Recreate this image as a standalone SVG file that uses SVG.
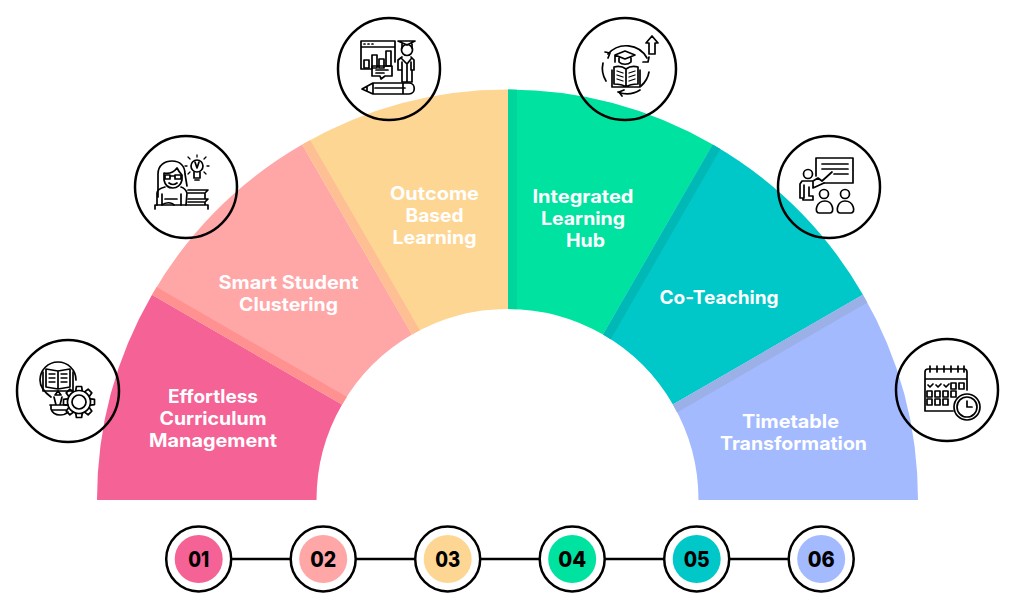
<svg xmlns="http://www.w3.org/2000/svg" width="1022" height="611" viewBox="0 0 1022 611">
<style>
.lbl{font-family:"Inter","Liberation Sans",sans-serif;font-weight:700;font-size:18.5px;fill:#fff;text-anchor:middle}
.num{font-family:"Inter","Liberation Sans",sans-serif;font-weight:800;font-size:21.5px;fill:#000;text-anchor:middle}
.badge{fill:none;stroke:#000;stroke-width:2.5}
.ring{fill:#fff;stroke:#000;stroke-width:2.5}
.ic{fill:none;stroke:#000;stroke-width:1.7;stroke-linejoin:round;stroke-linecap:round}
.thin{stroke-width:1.3}
</style>
<defs>
<clipPath id="arc"><path d="M97 500A410.5 410.5 0 0 1 918 500H698.5A191 191 0 0 0 316.5 500Z"/></clipPath>
<path id="tooth" d="M-3.2 -11.5L-2.6 -15.5H2.6L3.2 -11.5"/>
</defs>
<rect width="1022" height="611" fill="#fff"/>
<g id="sector-1">
<path fill="#f56295" d="M97 500A410.5 410.5 0 0 1 152 294.75L342.1 404.5A191 191 0 0 0 316.5 500Z"/>
<text class="lbl" x="213" y="403" textLength="90" lengthAdjust="spacingAndGlyphs">Effortless</text>
<text class="lbl" x="213" y="425" textLength="107" lengthAdjust="spacingAndGlyphs">Curriculum</text>
<text class="lbl" x="213" y="447" textLength="128" lengthAdjust="spacingAndGlyphs">Management</text>
</g>
<g id="sector-2">
<path fill="#ffa6a7" d="M152 294.75A410.5 410.5 0 0 1 302.25 144.5L412 334.6A191 191 0 0 0 342.1 404.5Z"/>
<text class="lbl" x="288.5" y="289" textLength="140" lengthAdjust="spacingAndGlyphs">Smart Student</text>
<text class="lbl" x="288.5" y="311" textLength="99" lengthAdjust="spacingAndGlyphs">Clustering</text>
</g>
<g id="sector-3">
<path fill="#fed693" d="M302.25 144.5A410.5 410.5 0 0 1 508 89.5V309A191 191 0 0 0 412 334.6Z"/>
<text class="lbl" x="434.5" y="200" textLength="89" lengthAdjust="spacingAndGlyphs">Outcome</text>
<text class="lbl" x="434.5" y="222" textLength="58" lengthAdjust="spacingAndGlyphs">Based</text>
<text class="lbl" x="434.5" y="244" textLength="84" lengthAdjust="spacingAndGlyphs">Learning</text>
</g>
<g id="sector-4">
<path fill="#00e3a0" d="M508 89.5A410.5 410.5 0 0 1 712.75 144.5L603 334.6A191 191 0 0 0 508 309Z"/>
<text class="lbl" x="583" y="203" textLength="101" lengthAdjust="spacingAndGlyphs">Integrated</text>
<text class="lbl" x="583" y="225" textLength="84" lengthAdjust="spacingAndGlyphs">Learning</text>
<text class="lbl" x="585.5" y="247" textLength="39" lengthAdjust="spacingAndGlyphs">Hub</text>
</g>
<g id="sector-5">
<path fill="#00c8c8" d="M712.75 144.5A410.5 410.5 0 0 1 863 294.75L672.9 404.5A191 191 0 0 0 603 334.6Z"/>
<text class="lbl" x="719" y="303.5" textLength="119" lengthAdjust="spacingAndGlyphs">Co-Teaching</text>
</g>
<g id="sector-6">
<path fill="#a3baff" d="M863 294.75A410.5 410.5 0 0 1 918 500H698.5A191 191 0 0 0 672.9 404.5Z"/>
<text class="lbl" x="790.5" y="428" textLength="97" lengthAdjust="spacingAndGlyphs">Timetable</text>
<text class="lbl" x="793.5" y="450" textLength="147" lengthAdjust="spacingAndGlyphs">Transformation</text>
</g>
<g id="sector-edges" clip-path="url(#arc)">
<rect x="87" y="491" width="240" height="9" fill="#ff9190" transform="rotate(30 507.5 500)"/>
<rect x="87" y="491" width="240" height="9" fill="#fdbf93" transform="rotate(60 507.5 500)"/>
<rect x="87" y="491" width="240" height="9" fill="#00d69b" transform="translate(0.5 0) rotate(90 507.5 500)"/>
<rect x="87" y="491" width="240" height="9" fill="#00b9b6" transform="rotate(120 507.5 500)"/>
<rect x="87" y="491" width="240" height="9" fill="#9bb0e6" transform="rotate(150 507.5 500)"/>
</g>
<g id="icon-curriculum">
<circle class="badge" cx="68" cy="391" r="51"/>
<g class="ic">
<path d="M51 397C44 392 40 387 40 380A18 18 0 0 1 76 380"/>
<path d="M43 372V391H73V372M46 369L58 371L70 369V387L58 389L46 387ZM58 371V389"/>
<path class="thin" d="M49 374h6M49 378h6M49 382h6M61 374h6M61 378h6M61 382h6"/>
<path d="M58 391L55 395H61ZM54 397L56 405M62 397L60 405M50 405H68M51 405V409Q53 415 60 415Q65 415 68 412M52 410H66"/>
<circle cx="79" cy="402" r="11.5"/><circle cx="79" cy="402" r="7"/>
<g transform="translate(79 402)"><use href="#tooth"/><use href="#tooth" transform="rotate(45)"/><use href="#tooth" transform="rotate(90)"/><use href="#tooth" transform="rotate(135)"/><use href="#tooth" transform="rotate(180)"/><use href="#tooth" transform="rotate(225)"/><use href="#tooth" transform="rotate(270)"/><use href="#tooth" transform="rotate(315)"/></g>
</g>
</g>
<g id="icon-clustering">
<circle class="badge" cx="186" cy="187" r="51"/>
<g class="ic">
<path d="M158 197V174C158 165 165 161 172 161C180 161 185 166 185 174L187 186"/>
<path d="M164 173C169 174 174 172 177 168C179 172 181 174 182 175V180C181 185 177 188 173 188C168 188 165 185 164 180Z"/>
<path d="M165 175H170V179H165ZM175 175H181V179H175ZM170 176H175M169 183Q173 186 177 183"/>
<path d="M157 205V193C157 190 161 188 165 187M181 187C184 188 186 190 187 193L186 205M162 194V205M181 194V205M165 199H177M162 205C165 202 172 202 174 205"/>
<path d="M155 209V205H208V209M188 190H208L205 193V199H188M188 199H208L205 202V205M188 193H204M188 202H204"/>
<circle cx="197" cy="166" r="6"/>
<path d="M194 172V178H200V172M195 180H199M195 162L197 168L199 162"/>
<path class="thin" d="M197 157V155M190 159L188 157M204 159L206 157M187 166H185M207 166H209M190 172L188 174M204 172L206 174"/>
</g>
</g>
<g id="icon-outcome">
<circle class="badge" cx="389" cy="69" r="51"/>
<g class="ic">
<path d="M395 62V41H361V69H372M361 47H395"/>
<path d="M364 44h1M368 44h1M372 44h1"/>
<path d="M364 60h5v8h-5ZM372 55h5v13h-5ZM379 59h5v9h-5ZM386 51h5v15h-5Z"/>
<path d="M372 66H392V76H385L381 79L380 76H372ZM376 70H388M376 73H384"/>
<path d="M398 41H415L407 45ZM402 44V48M412 44V48"/>
<circle cx="407" cy="50" r="5.5"/>
<path d="M402 57L398 60V70H402V82H412V70H414V60L411 57M402 59L407 64L411 59M407 64V82M402 70V62M411 70V62"/>
<path d="M362 89L373 83H409C416 83 416 94 409 94H373ZM373 83V94M375 88H405M403 83V94M367 87V91"/>
</g>
</g>
<g id="icon-hub">
<circle class="badge" cx="625" cy="69" r="51"/>
<g class="ic">
<path d="M608 54A24 24 0 0 1 647 58M649 72A24 24 0 0 1 641 86M618 92A24 24 0 0 0 640 90M606 81A24 24 0 0 1 603 63"/>
<path d="M643 62L648 62L649 57M605 52L610 53L608 58M624 90L619 92L622 96"/>
<path d="M615 55L625 51L635 55L625 59ZM619 58V62C622 65 628 65 631 62V58M615 55V62"/>
<path d="M626 69V87M626 69C622 66 618 66 614 67V84C618 84 622 84 626 87C630 84 634 84 638 84V67C634 66 630 66 626 69ZM612 70V87H640V70"/>
<path class="thin" d="M617 71l6 2M617 75l6 2M617 79l6 2M629 73l6 -2M629 77l6 -2M629 81l6 -2"/>
<path d="M649 54V43H646L652 36L658 43H655V54Z"/>
</g>
</g>
<g id="icon-coteaching">
<circle class="badge" cx="829" cy="187" r="51"/>
<g class="ic">
<path d="M816 176V158H853V183H824"/>
<path d="M822 164H848M822 169H848M834 174H848"/>
<circle cx="808" cy="174" r="4.5"/>
<path d="M832 172L822 181L818 178L813 181H802L800 184V198H804V185M809 187V196H813V200H803V198M813 181V188L824 183"/>
<circle cx="824" cy="194" r="4.5"/><circle cx="845" cy="194" r="4.5"/>
<path d="M819 213C814 213 816 201 825 201C833 201 835 213 830 213ZM840 213C835 213 837 201 845 201C854 201 856 213 851 213Z"/>
</g>
</g>
<g id="icon-timetable">
<circle class="badge" cx="947" cy="390" r="51"/>
<g class="ic">
<path d="M953 411H925V372Q925 369 928 369H964Q967 369 967 372V390M925 379H967"/>
<path d="M930 366V372M937 366V372M944 366V372M951 366V372M958 366V372M964 366V372"/>
<path d="M928 385l2 2l3 -3M936 385l2 2l3 -3M944 385l2 2l3 -3M951 383h5v6h-5ZM959 383h5v6h-5ZM927 391h5v6h-5ZM935 391h5v6h-5ZM943 391h5v6h-5ZM951 391h5v6h-5ZM927 399h5v6h-5ZM935 399h5v6h-5ZM943 399h5v6h-5Z"/>
<circle cx="967" cy="407" r="13"/><circle cx="967" cy="407" r="10"/>
<path d="M967 401V407H972"/>
</g>
</g>
<g id="connectors"><path d="M199 559H821" stroke="#000" stroke-width="2.5" fill="none"/></g>
<g id="step-01"><circle class="ring" cx="198.7" cy="559" r="32.5"/><circle cx="198.7" cy="559" r="24" fill="#f56295"/><text class="num" x="198.7" y="566.5" textLength="21" lengthAdjust="spacingAndGlyphs">01</text></g>
<g id="step-02"><circle class="ring" cx="323.2" cy="559" r="32.5"/><circle cx="323.2" cy="559" r="24" fill="#ffa6a7"/><text class="num" x="323.2" y="566.5" textLength="26" lengthAdjust="spacingAndGlyphs">02</text></g>
<g id="step-03"><circle class="ring" cx="447.7" cy="559" r="32.5"/><circle cx="447.7" cy="559" r="24" fill="#fed693"/><text class="num" x="447.7" y="566.5" textLength="25" lengthAdjust="spacingAndGlyphs">03</text></g>
<g id="step-04"><circle class="ring" cx="572.2" cy="559" r="32.5"/><circle cx="572.2" cy="559" r="24" fill="#00e3a0"/><text class="num" x="572.2" y="566.5" textLength="28" lengthAdjust="spacingAndGlyphs">04</text></g>
<g id="step-05"><circle class="ring" cx="696.7" cy="559" r="32.5"/><circle cx="696.7" cy="559" r="24" fill="#00c8c8"/><text class="num" x="696.7" y="566.5" textLength="26" lengthAdjust="spacingAndGlyphs">05</text></g>
<g id="step-06"><circle class="ring" cx="821.2" cy="559" r="32.5"/><circle cx="821.2" cy="559" r="24" fill="#a3baff"/><text class="num" x="821.2" y="566.5" textLength="27" lengthAdjust="spacingAndGlyphs">06</text></g>
</svg>
